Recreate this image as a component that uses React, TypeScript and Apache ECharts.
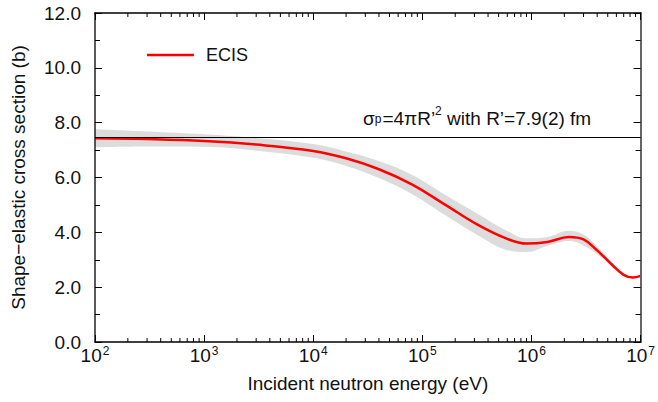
import React, { useEffect, useRef } from "react";
import * as echarts from "echarts";

// Incident neutron energy (eV)
const energies = [100, 300, 1000, 3000, 1e4, 2e4, 4e4, 8e4, 1.6e5, 3.2e5, 6e5, 9e5, 1.4e6, 2.2e6, 3e6, 4e6, 5.5e6, 7e6, 8.5e6, 1e7];
// ECIS shape-elastic cross section (b)
const ecis = [7.43, 7.40, 7.33, 7.20, 6.97, 6.70, 6.30, 5.75, 5.02, 4.28, 3.76, 3.59, 3.65, 3.83, 3.74, 3.34, 2.81, 2.45, 2.35, 2.41];
// uncertainty band
const bandLow = [7.10, 7.13, 7.12, 6.98, 6.72, 6.42, 5.98, 5.40, 4.64, 3.90, 3.35, 3.28, 3.50, 3.68, 3.52, 3.20, 2.75, 2.43, 2.34, 2.40];
const bandHigh = [7.76, 7.68, 7.58, 7.44, 7.22, 6.95, 6.60, 6.10, 5.38, 4.68, 4.05, 3.78, 3.83, 4.06, 3.92, 3.48, 2.89, 2.48, 2.37, 2.43];
// potential scattering level sigma_p = 4 pi R'^2
const sigmaP = [7.47];
const xMin = 100;
const xMax = 1e7;
const yMin = 0;
const yMax = 12;
const yInterval = 2;

const FONT = '"Liberation Sans", Arial, Helvetica, sans-serif';

export default function App() {
  const ref = useRef<HTMLDivElement>(null);
  useEffect(() => {
    if (!ref.current) return;
    const chart = echarts.init(ref.current, null, { renderer: "svg" });
    const minorE: number[] = [];
    for (let d = xMin; d < xMax; d *= 10) {
      for (let m = 2; m <= 9; m++) minorE.push(d * m);
    }
    const xLabel = (v: number) => `{b|10}{sup|${Math.round(Math.log10(v))}}`;
    const xRich = {
      b: { fontSize: 19, lineHeight: 20, verticalAlign: "bottom", fontFamily: FONT, color: "#111" },
      sup: { fontSize: 12, lineHeight: 12, verticalAlign: "top", fontFamily: FONT, color: "#111", padding: [0, 0, 0, 1] },
    };
    const option: any = {
      animation: false,
      backgroundColor: "#fff",
      textStyle: { fontFamily: FONT },
      grid: { left: 95, right: 9, top: 13, bottom: 60 },
      legend: {
        data: [{ name: "ECIS", icon: "rect" }],
        left: 147,
        top: 46,
        padding: 0,
        itemWidth: 47,
        itemHeight: 2.5,
        textStyle: { fontSize: 18, color: "#111", fontFamily: FONT, padding: [0, 0, 0, 7] },
      },
      xAxis: [
        {
          type: "log",
          logBase: 10,
          min: xMin,
          max: xMax,
          splitNumber: 5,
          position: "bottom",
          z: 3,
          name: "Incident neutron energy (eV)",
          nameLocation: "middle",
          nameGap: 32,
          nameTextStyle: { fontSize: 19, color: "#111", fontFamily: FONT },
          axisLine: { onZero: false, lineStyle: { color: "#000", width: 1.5 } },
          axisTick: { inside: true, length: 7, lineStyle: { color: "#000", width: 1 } },
          axisLabel: { color: "#111", margin: 3, formatter: xLabel, rich: xRich, showMinLabel: true, showMaxLabel: true },
          splitLine: { show: false },
        },
        {
          type: "log",
          logBase: 10,
          min: xMin,
          max: xMax,
          splitNumber: 5,
          position: "top",
          z: 3,
          axisLine: { onZero: false, lineStyle: { color: "#000", width: 1.5 } },
          axisTick: { inside: true, length: 7, lineStyle: { color: "#000", width: 1 } },
          axisLabel: { show: false },
          splitLine: { show: false },
        },
      ],
      yAxis: [
        {
          type: "value",
          min: yMin,
          max: yMax,
          interval: yInterval,
          position: "left",
          z: 3,
          name: "Shape\u2212elastic cross section (b)",
          nameLocation: "middle",
          nameGap: 67,
          nameTextStyle: { fontSize: 19, color: "#111", fontFamily: FONT },
          axisLine: { show: true, onZero: false, lineStyle: { color: "#222", width: 1.5 } },
          axisTick: { inside: true, length: 7, lineStyle: { color: "#000", width: 1 } },
          minorTick: { show: true, splitNumber: 2, length: 5, lineStyle: { color: "#000", width: 1 } },
          axisLabel: { fontSize: 19, color: "#111", margin: 14, formatter: (v: number) => v.toFixed(1) },
          splitLine: { show: false },
        },
        {
          type: "value",
          min: yMin,
          max: yMax,
          interval: yInterval,
          position: "right",
          z: 3,
          axisLine: { show: true, onZero: false, lineStyle: { color: "#666", width: 2 } },
          axisTick: { inside: true, length: 7, lineStyle: { color: "#000", width: 1 } },
          minorTick: { show: true, splitNumber: 2, length: 5, lineStyle: { color: "#000", width: 1 } },
          axisLabel: { show: false },
          splitLine: { show: false },
        },
      ],
      graphic: [
        {
          type: "text",
          x: 363,
          y: 105,
          z: 10,
          style: {
            text: "{n|\u03c3}{sub|p}{n|=4\u03c0R\u2019}{sup|2}{n| with R\u2019=7.9(2) fm}",
            fontSize: 19,
            fontFamily: FONT,
            fill: "#111",
            verticalAlign: "top",
            rich: {
              n: { fontSize: 19, lineHeight: 20, fontFamily: FONT, fill: "#111", verticalAlign: "top", padding: [4, 0, 0, 0] },
              sub: { fontSize: 12, lineHeight: 12, fontFamily: FONT, fill: "#111", verticalAlign: "bottom", padding: [15, 1, 0, 0] },
              sup: { fontSize: 12, lineHeight: 12, fontFamily: FONT, fill: "#111", verticalAlign: "top" },
            },
          },
        },
      ],
      series: [
        {
          name: "bandHigh",
          type: "line",
          smooth: 0.4,
          symbol: "none",
          silent: true,
          lineStyle: { width: 0, opacity: 0 },
          areaStyle: { color: "#dcdcdc", opacity: 1, origin: "start" },
          data: energies.map((e, i) => [e, bandHigh[i]]),
          z: 1,
        },
        {
          name: "bandLow",
          type: "line",
          smooth: 0.4,
          symbol: "none",
          silent: true,
          lineStyle: { width: 0, opacity: 0 },
          areaStyle: { color: "#ffffff", opacity: 1, origin: "start" },
          data: energies.map((e, i) => [e, bandLow[i]]),
          z: 1.5,
        },
        {
          name: "ECIS",
          type: "line",
          smooth: 0.4,
          symbol: "none",
          color: "#ff0000",
          lineStyle: { color: "#ff0000", width: 2.5 },
          data: energies.map((e, i) => [e, ecis[i]]),
          z: 2,
          markLine: {
            silent: true,
            symbol: ["none", "none"],
            label: { show: false },
            lineStyle: { color: "#000", width: 1, type: "solid" },
            data: sigmaP.map((v) => ({ yAxis: v })),
          },
        },
        {
          name: "minorTicks",
          type: "custom",
          silent: true,
          data: minorE.map((e) => [e, yMin]),
          renderItem: (params: any, api: any) => {
            const e = api.value(0);
            const b = api.coord([e, yMin]);
            const t = api.coord([e, yMax]);
            const style = { stroke: "#000", lineWidth: 1 };
            return {
              type: "group",
              children: [
                { type: "line", shape: { x1: b[0], y1: b[1], x2: b[0], y2: b[1] - 4 }, style },
                { type: "line", shape: { x1: t[0], y1: t[1], x2: t[0], y2: t[1] + 4 }, style },
              ],
            };
          },
          z: 5,
        },
      ],
    };
    chart.setOption(option);
    return () => chart.dispose();
  }, []);
  return <div ref={ref} style={{ width: 658, height: 402, position: "absolute", left: 0, top: 0 }} />;
}
